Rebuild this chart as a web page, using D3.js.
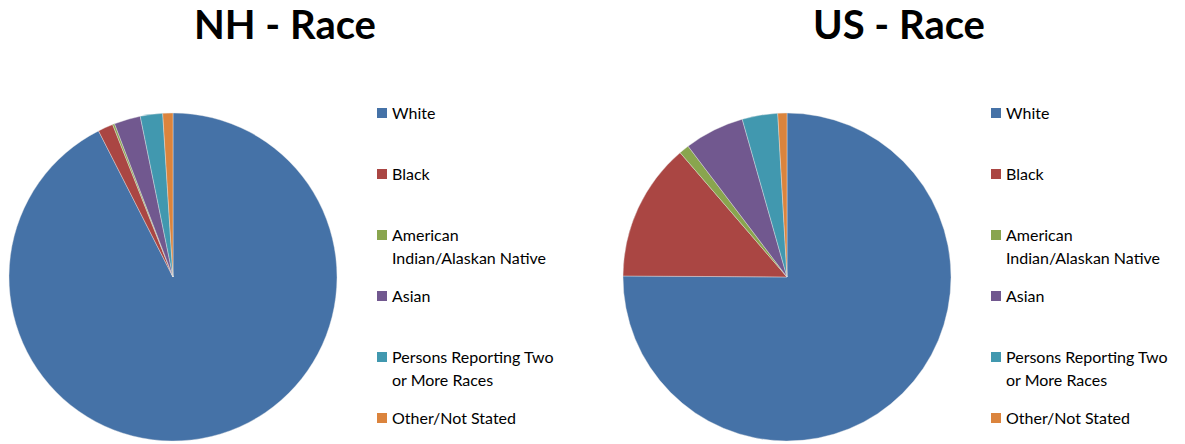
<!DOCTYPE html>
<html>
<head>
<meta charset="utf-8">
<script src="https://cdn.jsdelivr.net/npm/d3@7"></script>
<style>
  body { margin: 0; background: #fff; }
  text { font-family: Lato, "Open Sans", sans-serif; }
</style>
</head>
<body>
<div id="chart"></div>
<script>
// categories and colours (clockwise from 12 o'clock)
var categories = ["White", "Black", "American Indian/Alaskan Native", "Asian",
  "Persons Reporting Two or More Races", "Other/Not Stated"];
var legendLines = [["White"], ["Black"], ["American", "Indian/Alaskan Native"], ["Asian"],
  ["Persons Reporting Two", "or More Races"], ["Other/Not Stated"]];
var colors = ["#4572A7", "#AA4643", "#89A54E", "#71588F", "#4198AF", "#DB843D"];

// percent shares
var nhValues = [92.5, 1.5, 0.2, 2.6, 2.2, 1.0];
var usValues = [75.1, 13.6, 1.0, 5.9, 3.5, 0.9];

var charts = [
  {title: "NH - Race", values: nhValues, x0: 0},
  {title: "US - Race", values: usValues, x0: 614}
];

var width = 1185, height = 444;
var svg = d3.select("#chart").append("svg")
  .attr("width", width)
  .attr("height", height);

var color = d3.scaleOrdinal().domain(categories).range(colors);
var pie = d3.pie().sort(null).value(function(d) { return d.v; });
var arc = d3.arc().innerRadius(0).outerRadius(164);

charts.forEach(function(c) {
  var g = svg.append("g").attr("transform", "translate(" + c.x0 + ",0)");

  g.append("text")
    .attr("x", 285)
    .attr("y", 39)
    .attr("text-anchor", "middle")
    .attr("font-size", 40)
    .attr("font-weight", "bold")
    .text(c.title);

  var data = categories.map(function(k, i) { return {k: k, v: c.values[i]}; });
  var pg = g.append("g").attr("transform", "translate(173,277)");
  pg.selectAll("path")
    .data(pie(data))
    .enter()
    .append("path")
    .attr("d", arc)
    .attr("fill", function(d) { return color(d.data.k); })
    .attr("stroke", "#e8e8e8")
    .attr("stroke-width", 0.4);

  // legend
  var lg = g.append("g").attr("transform", "translate(377,0)");
  var y = d3.scalePoint().domain(categories).range([113, 418]);
  var item = lg.selectAll("g.item")
    .data(categories)
    .enter()
    .append("g")
    .attr("class", "item")
    .attr("transform", function(d) { return "translate(0," + y(d) + ")"; });
  item.append("rect")
    .attr("x", 0).attr("y", -5)
    .attr("width", 10).attr("height", 10)
    .attr("fill", function(d) { return color(d); });
  item.append("text")
    .attr("x", 15)
    .attr("y", 5.5)
    .attr("font-size", 16)
    .attr("fill", "#000")
    .each(function(d, i) {
      var t = d3.select(this);
      legendLines[i].forEach(function(line, j) {
        t.append("tspan").attr("x", 15).attr("dy", j === 0 ? 0 : 23).text(line);
      });
    });
});
</script>
</body>
</html>
